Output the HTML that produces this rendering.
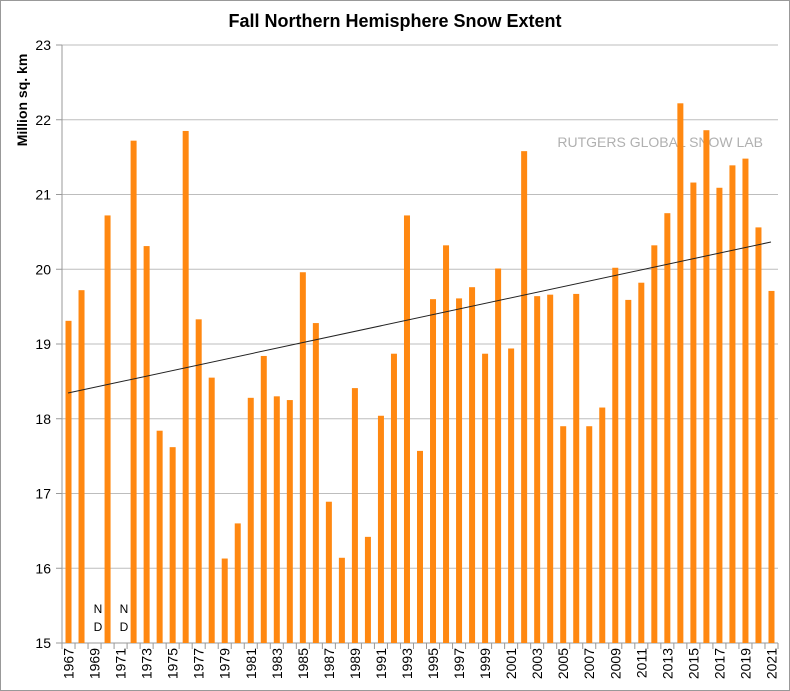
<!DOCTYPE html>
<html><head><meta charset="utf-8"><style>body{margin:0;background:#fff}svg{display:block}</style></head><body>
<svg id="c" width="790" height="691" xmlns="http://www.w3.org/2000/svg" font-family="Liberation Sans, Arial, sans-serif">
<rect x="0.5" y="0.5" width="789" height="690" fill="#fff" stroke="#999"/>
<text x="395" y="27" text-anchor="middle" font-size="18" font-weight="bold">Fall Northern Hemisphere Snow Extent</text>
<text transform="translate(27,100) rotate(-90)" text-anchor="middle" font-size="14" font-weight="bold">Million sq. km</text>
<g id="grid"></g>
<text x="763" y="147" text-anchor="end" font-size="14" fill="#b0b0b0">RUTGERS GLOBAL SNOW LAB</text>
<g id="bars"></g>
<line x1="68" y1="393" x2="771" y2="242" stroke="#222" stroke-width="1"/>
<text x="98" y="613" text-anchor="middle" font-size="12">N</text>
<text x="98" y="631" text-anchor="middle" font-size="12">D</text>
<text x="124" y="613" text-anchor="middle" font-size="12">N</text>
<text x="124" y="631" text-anchor="middle" font-size="12">D</text>
<g id="xl"></g>
</svg>
<script>
var ns="http://www.w3.org/2000/svg";
function el(p,t,a,txt){var e=document.createElementNS(ns,t);for(var k in a)e.setAttribute(k,a[k]);if(txt!=null)e.textContent=txt;document.getElementById(p).appendChild(e);}
var L=62,R=778,B=643,S=74.75;
for(var v=15;v<=23;v++){var y=B-(v-15)*S;
 el("grid","line",{x1:L,x2:R,y1:y,y2:y,stroke:v==15?"#999":"#bdbdbd","stroke-width":1});
 el("grid","line",{x1:56,x2:L,y1:y,y2:y,stroke:"#999"});
 el("grid","text",{x:51,y:y+5,"text-anchor":"end","font-size":14},v);}
el("grid","line",{x1:L,x2:L,y1:45,y2:B+6,stroke:"#999"});
var d=[19.31,19.72,null,20.72,null,21.72,20.31,17.84,17.62,21.85,19.33,18.55,16.13,16.6,18.28,18.84,18.3,18.25,19.96,19.28,16.89,16.14,18.41,16.42,18.04,18.87,20.72,17.57,19.6,20.32,19.61,19.76,18.87,20.01,18.94,21.58,19.64,19.66,17.9,19.67,17.9,18.15,20.02,19.59,19.82,20.32,20.75,22.22,21.16,21.86,21.09,21.39,21.48,20.56,19.71];
var w=(R-L)/55;
for(var i=0;i<55;i++){var cx=L+w*(i+0.5);
 el("grid","line",{x1:L+w*(i+1),x2:L+w*(i+1),y1:B,y2:B+6,stroke:"#999"});
 if(d[i]!=null){var t=B-(d[i]-15)*S;el("bars","rect",{x:cx-3,y:t,width:6,height:B-t,fill:"#ff8811"});}
 if(i%2==0)el("xl","text",{transform:"translate("+(cx+5)+",648) rotate(-90)","text-anchor":"end","font-size":14},1967+i);}
</script>
</body></html>
